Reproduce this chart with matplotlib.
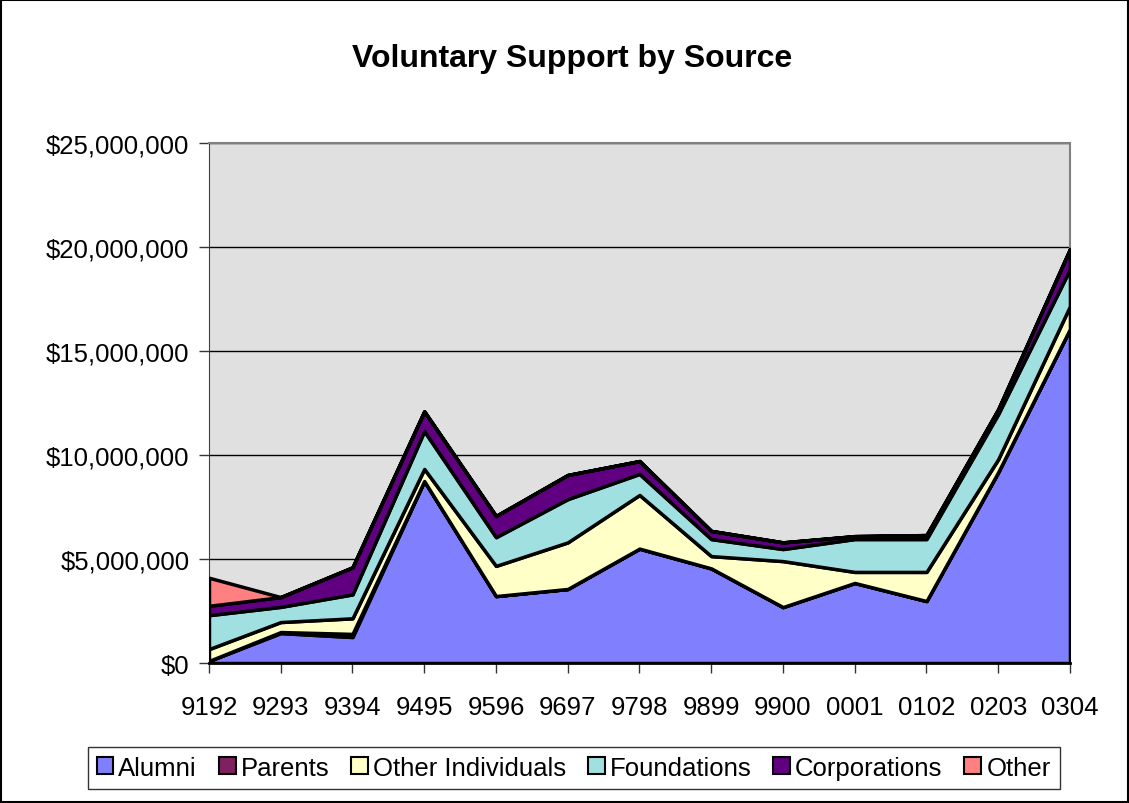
import matplotlib
matplotlib.use('Agg')
import matplotlib.pyplot as plt
from matplotlib.ticker import FuncFormatter
import numpy as np

plt.rcParams['font.family'] = ['Liberation Sans', 'DejaVu Sans']

years = ['9192', '9293', '9394', '9495', '9596', '9697', '9798',
         '9899', '9900', '0001', '0102', '0203', '0304']

alumni      = [100000, 1440000, 1250000, 8750000, 3220000, 3560000, 5500000,
               4550000, 2690000, 3850000, 2980000, 9180000, 16060000]
parents     = [0, 50000, 150000, 0, 0, 0, 0, 0, 0, 0, 0, 0, 0]
other_indiv = [570000, 480000, 750000, 580000, 1450000, 2240000, 2580000,
               590000, 2210000, 530000, 1400000, 620000, 1100000]
foundations = [1630000, 730000, 1150000, 1820000, 1380000, 2080000, 1010000,
               820000, 580000, 1580000, 1580000, 2170000, 1780000]
corporations = [450000, 470000, 1300000, 950000, 1020000, 1160000, 620000,
                390000, 320000, 140000, 190000, 230000, 960000]
other       = [1350000, 0, 0, 0, 0, 0, 0, 0, 0, 0, 0, 0, 0]

labels = ['Alumni', 'Parents', 'Other Individuals', 'Foundations', 'Corporations', 'Other']
colors = ['#8080FF', '#7F2060', '#FFFFC8', '#A0E0E0', '#600080', '#FF8080']

fig = plt.figure(figsize=(11.29, 8.04), dpi=100)
ax = fig.add_axes([0.1851, 0.1741, 0.7626, 0.6468])
ax.set_facecolor('#E0E0E0')

x = np.arange(len(years))
ax.stackplot(x, alumni, parents, other_indiv, foundations, corporations, other,
             colors=colors, labels=labels, edgecolor='black', linewidth=2.5,
             zorder=3)

ax.set_xlim(0, len(years) - 1)
ax.set_ylim(0, 25000000)
ax.set_yticks(np.arange(0, 25000001, 5000000))
ax.yaxis.set_major_formatter(FuncFormatter(lambda v, p: '${:,.0f}'.format(v)))
ax.set_xticks(x)
ax.set_xticklabels(years)
ax.grid(axis='y', color='black', linewidth=1, zorder=1)
ax.tick_params(labelsize=18.5, length=7, width=1, color='#333333')
ax.tick_params(axis='x', pad=16)
ax.tick_params(axis='y', pad=7)

for s in ['top', 'right']:
    ax.spines[s].set_color('#808080')
    ax.spines[s].set_linewidth(1.5)
ax.spines['left'].set_color('#404040')
ax.spines['bottom'].set_color('black')
ax.spines['bottom'].set_linewidth(2)

fig.text(0.507, 0.927, 'Voluntary Support by Source', ha='center', va='center',
         fontsize=23, fontweight='bold')

leg = fig.legend(loc='center', bbox_to_anchor=(0.508, 0.044), ncol=6,
                 fontsize=18.5, frameon=True, fancybox=False, edgecolor='black',
                 handlelength=0.65, handleheight=0.65, handletextpad=0.2,
                 columnspacing=0.85, borderpad=0.35)
leg.get_frame().set_linewidth(1)
for h in leg.legend_handles:
    h.set_linewidth(1.5)

fig.patches.append(plt.Rectangle((0.001, 0.001), 0.998, 0.998, transform=fig.transFigure,
                                 fill=False, edgecolor='black', linewidth=1.5))

fig.savefig('out.png', dpi=100)
